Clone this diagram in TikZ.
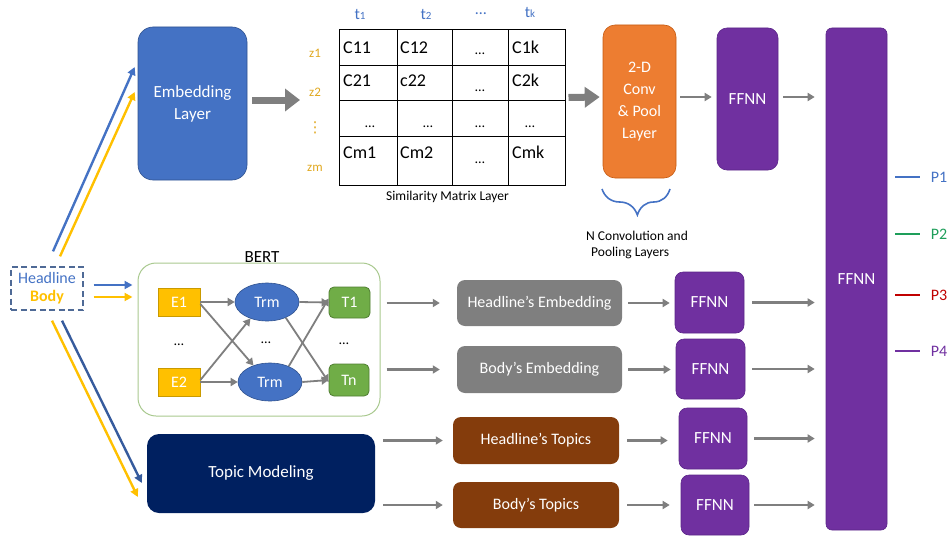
\documentclass[tikz,border=0pt]{standalone}
\usepackage{fontspec}
\setmainfont{Carlito}
\newfontfamily\dejavu{DejaVu Sans}
\usetikzlibrary{arrows.meta,shapes.geometric,decorations.pathreplacing}
\definecolor{cblue}{HTML}{4472C4}
\definecolor{cbluedk}{HTML}{2F528F}
\definecolor{corange}{HTML}{ED7D31}
\definecolor{corangedk}{HTML}{C55A11}
\definecolor{cpurple}{HTML}{7030A0}
\definecolor{cpurpledk}{HTML}{5B2589}
\definecolor{cnavy}{HTML}{002060}
\definecolor{cbrown}{HTML}{843C0C}
\definecolor{cgraybox}{HTML}{7F7F7F}
\definecolor{carrow}{HTML}{7F7F7F}
\definecolor{cyellow}{HTML}{FFC000}
\definecolor{cyellowdk}{HTML}{C99A00}
\definecolor{cgreen}{HTML}{70AD47}
\definecolor{cgreendk}{HTML}{507E32}
\definecolor{czlab}{HTML}{E0A820}
\definecolor{cbert}{HTML}{A9C98F}
\definecolor{cptwo}{HTML}{1E9E5A}
\definecolor{cpthree}{HTML}{C00000}
\definecolor{cinbox}{HTML}{4F6A96}
\begin{document}
\begin{tikzpicture}[x=1pt,y=-1pt,
  box/.style={rectangle, rounded corners=8pt, inner sep=2pt, align=center, text=white, font=\fontsize{16}{20}\selectfont},
  ffnn/.style={box, fill=cpurple, draw=cpurpledk, line width=0.6pt, font=\fontsize{17}{20}\selectfont},
  garrow/.style={draw=carrow, line width=2.2pt, -{Triangle[length=7pt,width=8pt]}},
  bigarrow/.style={draw=carrow, line width=7pt, -{Triangle[length=15pt,width=22pt]}},
  inarrow/.style={line width=2.4pt, -{Triangle[length=8pt,width=8pt]}},
  cell/.style={anchor=base west, inner sep=0pt, font=\fontsize{18}{20}\selectfont},
  dcell/.style={anchor=base, inner sep=0pt, font=\fontsize{14}{16}\selectfont},
  zlab/.style={text=czlab, inner sep=0pt, font=\fontsize{13}{15}\selectfont},
  tlab/.style={text=cblue, inner sep=0pt, font=\fontsize{16}{18}\selectfont},
  plab/.style={inner sep=1pt, font=\fontsize{16}{18}\selectfont},
  small/.style={inner sep=0pt, font=\fontsize{13.5}{15}\selectfont}]
\useasboundingbox (0,0) rectangle (952,535);

% ---------- top branch ----------
\node[box, fill=cblue, draw=cbluedk, line width=0.6pt, rounded corners=15pt, minimum width=109pt, minimum height=153pt, font=\fontsize{17}{22}\selectfont] (emb) at (192.5,103.5) {Embedding\\Layer};
\coordinate (embend) at (300,100);

\node[zlab] (z1) at (315,53) {z1};
\node[zlab] (z2) at (315,92) {z2};
\node[zlab] (zd) at (315,128) {\dejavu\fontsize{15}{17}\selectfont ⋮};
\node[zlab] (zm) at (315,168) {zm};

\node[draw, line width=1pt, minimum width=226pt, minimum height=155pt, inner sep=0pt] (mat) at (452,107.5) {};
\foreach \x in {397,452,508} \draw[line width=1pt] (\x,30) -- (\x,185);
\foreach \y in {65,100,136} \draw[line width=1pt] (339,\y) -- (565,\y);

\node[tlab] (t1) at (360,15) {t{\fontsize{11}{12}\selectfont 1}};
\node[tlab] (t2) at (426,15) {t{\fontsize{11}{12}\selectfont 2}};
\node[tlab] (tdots) at (481,14) {…};
\node[tlab] (tk) at (530,13) {t{\fontsize{11}{12}\selectfont k}};

\node[cell] (c11) at (343,53) {C11};
\node[cell] (c12) at (400,53) {C12};
\node[dcell] (c13) at (480,55) {…};
\node[cell] (c14) at (512,53) {C1k};
\node[cell] (c21) at (343,86) {C21};
\node[cell] (c22) at (400,86) {c22};
\node[dcell] (c23) at (480,91) {…};
\node[cell] (c24) at (512,86) {C2k};
\node[dcell] (c31) at (370,127) {…};
\node[dcell] (c32) at (428,127) {…};
\node[dcell] (c33) at (480,127) {…};
\node[dcell] (c34) at (530,127) {…};
\node[cell] (c41) at (343,158) {Cm1};
\node[cell] (c42) at (400,158) {Cm2};
\node[dcell] (c43) at (480,163) {…};
\node[cell] (c44) at (512,158) {Cmk};
\node[small] (simlab) at (447.5,197) {Similarity Matrix Layer};

\node[box, fill=corange, draw=corangedk, line width=0.6pt, rounded corners=12pt, minimum width=73pt, minimum height=153pt, font=\fontsize{16}{22}\selectfont] (conv) at (639.5,101.5) {2-D\\Conv\\\& Pool\\Layer};
\draw[cblue, line width=1.6pt, decorate, decoration={brace, mirror, amplitude=26pt, aspect=0.52}] (602,189) -- (670,189);
\node[small, anchor=base west] (nconv1) at (586,240) {N Convolution and};
\node[small, anchor=base west] (nconv2) at (591,256) {Pooling Layers};

\node[ffnn, rounded corners=10pt, minimum width=61pt, minimum height=142pt] (fa) at (747.5,99) {FFNN};
\node[ffnn, rounded corners=6pt, minimum width=61pt, minimum height=502pt, text depth=0pt] (big) at (856.5,279) {FFNN};

\draw[bigarrow] ([xshift=5pt]emb.east |- embend) -- (embend);
\draw[bigarrow, -{Triangle[length=15pt,width=20pt]}] ([xshift=3pt,yshift=10pt]mat.east) -- ([xshift=-3pt,yshift=4.5pt]conv.west);
\draw[garrow] ([xshift=4pt,yshift=4.5pt]conv.east) -- ([xshift=-5pt,yshift=2pt]fa.west);
\draw[garrow] ([xshift=5pt,yshift=2pt]fa.east) -- ([xshift=-11pt,yshift=2pt]big.west |- fa.east);

% ---------- input ----------
\node[draw=cinbox, dash pattern=on 6pt off 3.5pt, line width=1.3pt, minimum width=72pt, minimum height=43pt, inner sep=1pt, align=center, font=\fontsize{16}{18}\selectfont] (in) at (47,288.5) {\textcolor{cblue}{Headline}\\\textcolor{cyellow}{\textbf{Body}}};

% ---------- BERT ----------
\node[draw=cbert, line width=1pt, rounded corners=18pt, minimum width=242pt, minimum height=153pt, fill=white] (bert) at (259,339.5) {};
\node[inner sep=0pt, font=\fontsize{17}{19}\selectfont] (bertlab) at (262,257) {BERT};
\node[box, rounded corners=0pt, fill=cyellow, draw=cyellowdk, line width=0.8pt, minimum width=42pt, minimum height=28pt] (e1) at (179,302) {E1};
\node[box, rounded corners=0pt, fill=cyellow, draw=cyellowdk, line width=0.8pt, minimum width=42pt, minimum height=28pt] (e2) at (179,382) {E2};
\node[ellipse, fill=cblue, draw=cbluedk, line width=0.6pt, text=white, minimum width=64pt, minimum height=38pt, inner sep=0pt, font=\fontsize{16}{18}\selectfont] (trm1) at (267,302) {Trm};
\node[ellipse, fill=cblue, draw=cbluedk, line width=0.6pt, text=white, minimum width=64pt, minimum height=38pt, inner sep=0pt, font=\fontsize{16}{18}\selectfont] (trm2) at (270,382) {Trm};
\node[box, rounded corners=5pt, fill=cgreen, draw=cgreendk, line width=0.8pt, minimum width=41pt, minimum height=31pt] (tone) at (349.5,302.5) {T1};
\node[box, rounded corners=5pt, fill=cgreen, draw=cgreendk, line width=0.8pt, minimum width=40pt, minimum height=32pt] (tn) at (349,380) {Tn};
\node[dcell, anchor=center] (d1) at (179,345) {…};
\node[dcell, anchor=center] (d2) at (266,343) {…};
\node[dcell, anchor=center] (d3) at (344,344) {…};
\begin{scope}[garrow, line width=1.8pt]
  \draw (e1.east) -- (trm1.west);
  \draw ([yshift=-2pt]e1.east) -- (trm2.135);
  \draw ([yshift=2pt]e2.east) -- (trm1.225);
  \draw (e2.east) -- (trm2.west);
  \draw (trm1.east) -- (tone.west);
  \draw (trm1.-40) -- ([yshift=-2pt]tn.west);
  \draw (trm2.40) -- ([yshift=4pt]tone.west);
  \draw (trm2.east) -- (tn.west);
\end{scope}

% ---------- topic modeling ----------
\node[box, fill=cnavy, rounded corners=12pt, minimum width=228pt, minimum height=79pt, font=\fontsize{17}{20}\selectfont] (topic) at (261,473.5) {Topic Modeling};

% input arrows
\draw[inarrow, cblue] ([shift={(6,-15)}]in.north) -- ([shift={(-3,-36.5)}]emb.west);
\draw[inarrow, cyellow] ([shift={(13,-10)}]in.north) -- ([shift={(-3,-11.5)}]emb.west);
\draw[inarrow, cblue] ([shift={(10,-3.5)}]in.east) -- ([shift={(-5,-54.5)}]bert.west);
\draw[inarrow, cyellow] ([shift={(10,8.5)}]in.east) -- ([shift={(-5,-42.5)}]bert.west);
\draw[inarrow, cyellow] ([shift={(5,10)}]in.south) -- ([shift={(-9,23.5)}]topic.west);
\draw[inarrow, cblue!80!black] ([shift={(15,10)}]in.south) -- ([shift={(-5,9.5)}]topic.west);

% ---------- middle column ----------
\node[box, fill=cgraybox, minimum width=165pt, minimum height=46pt] (he) at (539.5,303) {Headline’s Embedding};
\node[box, fill=cgraybox, minimum width=165pt, minimum height=47pt] (be) at (539.5,369.5) {Body’s Embedding};
\node[box, fill=cbrown, minimum width=166pt, minimum height=47pt] (ht) at (536,440.5) {Headline’s Topics};
\node[box, fill=cbrown, minimum width=166pt, minimum height=46pt] (bt) at (536,505) {Body’s Topics};

\node[ffnn, minimum width=69pt, minimum height=61pt] (f1) at (709.5,302.5) {FFNN};
\node[ffnn, minimum width=69pt, minimum height=60pt] (f2) at (710.5,369) {FFNN};
\node[ffnn, minimum width=68pt, minimum height=61pt] (f3) at (713,438.5) {FFNN};
\node[ffnn, minimum width=68pt, minimum height=60pt] (f4) at (715,505) {FFNN};

\draw[garrow] ([xshift=6pt]bert.east |- he.west) -- ([xshift=-17pt]he.west);
\draw[garrow] ([xshift=6pt]bert.east |- be.west) -- ([xshift=-17pt]be.west);
\draw[garrow] ([xshift=8pt]topic.east |- ht.west) -- ([xshift=-10pt]ht.west);
\draw[garrow] ([xshift=8pt]topic.east |- bt.west) -- ([xshift=-10pt]bt.west);

\draw[garrow] ([xshift=6pt]he.east) -- ([xshift=-5pt]f1.west |- he.east);
\draw[garrow] ([xshift=6pt]be.east) -- ([xshift=-5pt]f2.west |- be.east);
\draw[garrow] ([xshift=8pt]ht.east) -- ([xshift=-11pt]f3.west |- ht.east);
\draw[garrow] ([xshift=8pt]bt.east) -- ([xshift=-11pt]f4.west |- bt.east);

\draw[garrow] ([xshift=8pt]f1.east) -- ([xshift=-11pt]big.west |- f1.east);
\draw[garrow] ([xshift=7pt]f2.east) -- ([xshift=-11pt]big.west |- f2.east);
\draw[garrow] ([xshift=7pt]f3.east) -- ([xshift=-11pt]big.west |- f3.east);
\draw[garrow] ([xshift=5pt]f4.east) -- ([xshift=-11pt]big.west |- f4.east);

% ---------- outputs ----------
\node[plab, text=cblue] (p1) at (939,177) {P1};
\node[plab, text=cptwo] (p2) at (939,234) {P2};
\node[plab, text=cpthree] (p3) at (939,295) {P3};
\node[plab, text=cpurple] (p4) at (939,351) {P4};
\draw[cblue, line width=1.5pt] ([xshift=8pt]big.east |- p1.west) -- ([xshift=-10pt]p1.west);
\draw[cptwo, line width=1.5pt] ([xshift=8pt]big.east |- p2.west) -- ([xshift=-10pt]p2.west);
\draw[cpthree, line width=1.5pt] ([xshift=8pt]big.east |- p3.west) -- ([xshift=-10pt]p3.west);
\draw[cpurple, line width=1.5pt] ([xshift=8pt]big.east |- p4.west) -- ([xshift=-10pt]p4.west);
\end{tikzpicture}
\end{document}
